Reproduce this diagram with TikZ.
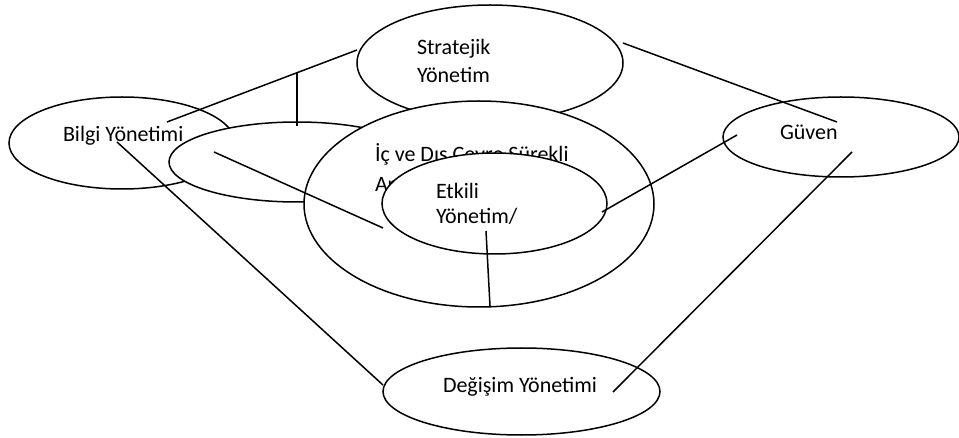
\documentclass[tikz,border=0pt]{standalone}
\usepackage{fontspec}
\setmainfont{Carlito}
\usetikzlibrary{shapes.geometric}
\begin{document}
\begin{tikzpicture}[x=1pt,y=-1pt,inner sep=0pt,outer sep=0pt,line width=1.5pt,
bubble/.style={draw,ellipse,fill=white,line width=1.5pt},
lbl/.style={anchor=base west,font=\fontsize{22}{28}\selectfont}]
\useasboundingbox (0,0) rectangle (959,438);
\draw (122,143) node[bubble,minimum width=226pt,minimum height=92pt] (bilgi) {};
\draw (297,162) node[bubble,minimum width=256pt,minimum height=80pt] (bos) {};
\draw (63,142) node[lbl] (bilgiT) {Bilgi Yönetimi};
\draw (490,63) node[bubble,minimum width=266pt,minimum height=116pt] (strat) {};
\draw (417,55) node[lbl] (stratT1) {Stratejik};
\draw (417,83) node[lbl] (stratT2) {Yönetim};
\draw (479,204) node[bubble,minimum width=350pt,minimum height=206pt] (cevre) {};
\draw (375,162) node[lbl] (cevreT1) {İç ve Dış Çevre Sürekli};
\draw (375,192) node[lbl] (cevreT2) {Ar};
\draw (494.5,203.5) node[bubble,minimum width=225pt,minimum height=101pt] (etkili) {};
\draw (436,199) node[lbl] (etkiliT1) {Etkili};
\draw (436,224) node[lbl] (etkiliT2) {Yönetim/};
\draw (841,137) node[bubble,minimum width=236pt,minimum height=80pt] (guven) {};
\draw (780,140) node[lbl] (guvenT) {Güven};
\draw (521.5,391.5) node[bubble,minimum width=277pt,minimum height=87pt] (degisim) {};
\draw (443,392) node[lbl] (degisimT) {Değişim Yönetimi};

\coordinate (b1) at (167,122);
\coordinate (s1) at (357,50);
\coordinate (k1) at (297,73);
\coordinate (k2) at (297,126);
\coordinate (o1) at (214,152);
\coordinate (e1) at (383,228);
\coordinate (b2) at (117,142);
\coordinate (d1) at (383,385);
\coordinate (e2) at (602,212);
\coordinate (g1) at (737,135);
\coordinate (s2) at (623,43);
\coordinate (g2) at (837,122);
\coordinate (g3) at (852,152);
\coordinate (d2) at (613,392);
\coordinate (e3) at (486,231);
\coordinate (c1) at (490,306);

\draw (b1) -- (s1);
\draw (k1) -- (k2);
\draw (o1) -- (e1);
\draw (b2) -- (d1);
\draw (e2) -- (g1);
\draw (s2) -- (g2);
\draw (g3) -- (d2);
\draw (e3) -- (c1);
\end{tikzpicture}
\end{document}
